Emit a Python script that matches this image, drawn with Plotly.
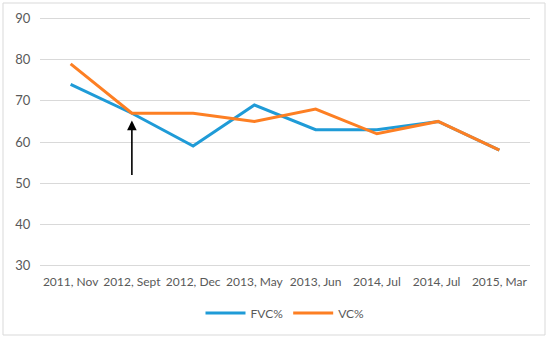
import plotly.graph_objects as go

categories = ["2011, Nov", "2012, Sept", "2012, Dec", "2013, May", "2013, Jun", "2014, Jul", "2014, Jul ", "2015, Mar"]
fvc = [74, 67, 59, 69, 63, 63, 65, 58]
vc = [79, 67, 67, 65, 68, 62, 65, 58]
y_ticks = [30, 40, 50, 60, 70, 80, 90]

fig = go.Figure()
fig.add_trace(go.Scatter(x=categories, y=fvc, mode="lines", name="FVC%",
                         line=dict(color="#1f9bd7", width=3)))
fig.add_trace(go.Scatter(x=categories, y=vc, mode="lines", name="VC%",
                         line=dict(color="#fd7f23", width=3)))

fig.add_annotation(x=categories[1], y=65.2, ax=categories[1], ay=51.6,
                   xref="x", yref="y", axref="x", ayref="y",
                   showarrow=True, arrowhead=2, arrowsize=1.2, arrowwidth=1.6,
                   arrowcolor="black", text="")

W, H = 550, 339
l, r, t, b = 40, 20, 17, 72
pw, ph = W - l - r, H - t - b
fig.add_shape(type="rect", xref="paper", yref="paper",
              x0=(3 - l) / pw, x1=(545 - l) / pw,
              y0=(H - b - 335) / ph, y1=(H - b - 3) / ph,
              line=dict(color="#d9d9d9", width=1), fillcolor="rgba(0,0,0,0)", layer="below")

fig.update_layout(
    width=W, height=H,
    margin=dict(l=l, r=r, t=t, b=b, autoexpand=False),
    paper_bgcolor="white", plot_bgcolor="white",
    font=dict(family="Lato, Open Sans, sans-serif", size=12, color="#595959"),
    xaxis=dict(range=[-0.5, 7.5], showgrid=False, showline=False, zeroline=False,
               automargin=False,
               ticks="outside", ticklen=4, tickcolor="rgba(0,0,0,0)",
               tickfont=dict(size=12, color="#595959"), fixedrange=True),
    yaxis=dict(range=[29.6, 90.4], tickvals=y_ticks, showgrid=True, gridcolor="#d9d9d9",
               gridwidth=1, zeroline=False, showline=False, automargin=False,
               ticks="outside", ticklen=6, tickcolor="rgba(0,0,0,0)",
               tickfont=dict(size=13, color="#595959"), fixedrange=True),
    legend=dict(orientation="h", x=0.5, xanchor="center", y=(H - b - 313) / ph, yanchor="middle",
                font=dict(size=12, color="#595959"), itemwidth=40),
    showlegend=True,
)

fig.write_html("out.html", config={"displayModeBar": False, "staticPlot": False},
               post_script="document.body.style.margin='0';document.body.style.padding='0';document.body.style.overflow='hidden';")
